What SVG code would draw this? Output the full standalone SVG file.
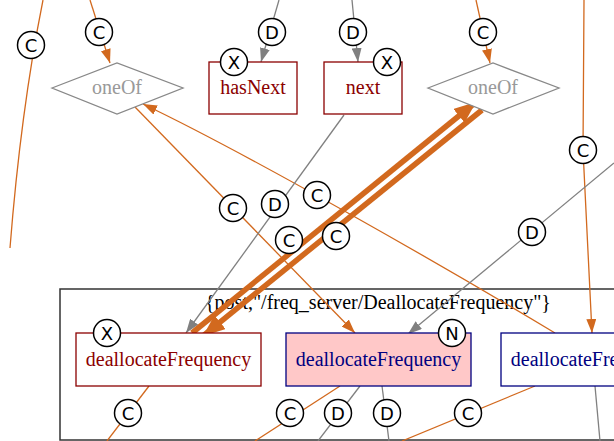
<svg xmlns="http://www.w3.org/2000/svg" width="614" height="441" viewBox="0 0 614 441">
<style>
.lbl{font-family:"Liberation Serif","Times New Roman",serif;font-size:20px;text-anchor:middle}
.mk circle{fill:#fff;stroke:#000;stroke-width:1.5}
.mk text{font-family:"DejaVu Sans",sans-serif;font-size:18px;text-anchor:middle;fill:#000}
.eo{fill:none;stroke:#d2691e;stroke-width:1.3}
.eg{fill:none;stroke:#808080;stroke-width:1.3}
.et{fill:none;stroke:#d2691e;stroke-width:5.5}
</style>
<defs>
<marker id="ao" markerUnits="userSpaceOnUse" viewBox="0 0 14 10" refX="14" refY="5" markerWidth="14" markerHeight="10" orient="auto"><path d="M0,0L14,5L0,10z" fill="#d2691e"/></marker>
<marker id="ag" markerUnits="userSpaceOnUse" viewBox="0 0 14 10" refX="14" refY="5" markerWidth="14" markerHeight="10" orient="auto"><path d="M0,0L14,5L0,10z" fill="#808080"/></marker>
<marker id="at" markerUnits="userSpaceOnUse" viewBox="0 0 22 18" refX="22" refY="9" markerWidth="22" markerHeight="18" orient="auto"><path d="M0,0L22,9L0,18z" fill="#d2691e"/></marker>
</defs>
<rect x="0" y="0" width="614" height="441" fill="#fff"/>

<g id="cluster">
<rect x="60" y="289" width="570" height="151" fill="none" stroke="#333" stroke-width="1.5"/>
<text class="lbl" x="378" y="309" fill="#000">{post,"/freq_server/DeallocateFrequency"}</text>
</g>

<g id="connectors">
<path class="eo" d="M43,0 C35,40 20,120 10,248"/>
<path class="eo" d="M90,0 L110,63" marker-end="url(#ao)"/>
<path class="eg" d="M279,0 L261,62" marker-end="url(#ag)"/>
<path class="eg" d="M352,0 L358,62" marker-end="url(#ag)"/>
<path class="eo" d="M476,0 L490,63" marker-end="url(#ao)"/>
<path class="eo" d="M584,0 L583,150 L592,333" marker-end="url(#ao)"/>
<path class="eo" d="M135,107 L355,333" marker-end="url(#ao)"/>
<path class="eo" d="M555,333 C450,270 250,155 143,104" marker-end="url(#ao)"/>
<path class="eg" d="M344,115 L186,333" marker-end="url(#ag)"/>
<path class="eg" d="M614,163 L408,334" marker-end="url(#ag)"/>
<path class="et" d="M192,333 L476,102" marker-end="url(#at)" marker-start="url(#at)"/>
<path class="et" d="M482,110 L203,336" marker-end="url(#at)"/>
<path class="eo" d="M149,386 L107,441"/>
<path class="eo" d="M340,386 L255,441"/>
<path class="eg" d="M360,386 L318,441"/>
<path class="eg" d="M382,386 L389,441"/>
<path class="eo" d="M535,386 L402,441"/>
<path class="eg" d="M595,386 L600,441"/>
</g>

<g id="oneOf1">
<polygon points="52,88 117,63 183,88 117,114" fill="#fff" stroke="#888" stroke-width="1.3"/>
<text class="lbl" x="117" y="94" fill="#999">oneOf</text>
</g>
<g id="oneOf2">
<polygon points="428,88 493,63 559,88 493,114" fill="#fff" stroke="#888" stroke-width="1.3"/>
<text class="lbl" x="493" y="94" fill="#999">oneOf</text>
</g>
<g id="hasNext">
<rect x="209" y="62" width="88" height="52" fill="#fff" stroke="#8b0000" stroke-width="1.3"/>
<text class="lbl" x="253" y="94" fill="#8b0000">hasNext</text>
</g>
<g id="next">
<rect x="324" y="62" width="78" height="52" fill="#fff" stroke="#8b0000" stroke-width="1.3"/>
<text class="lbl" x="363" y="94" fill="#8b0000">next</text>
</g>
<g id="dealloc1">
<rect x="76" y="333" width="185" height="53" fill="#fff" stroke="#8b0000" stroke-width="1.3"/>
<text class="lbl" x="168.5" y="366" fill="#8b0000">deallocateFrequency</text>
</g>
<g id="dealloc2">
<rect x="286" y="333" width="185" height="53" fill="#ffc8c8" stroke="#000080" stroke-width="1.3"/>
<text class="lbl" x="378.5" y="366" fill="#000080">deallocateFrequency</text>
</g>
<g id="dealloc3">
<rect x="501" y="333" width="185" height="53" fill="#fff" stroke="#000080" stroke-width="1.3"/>
<text class="lbl" x="593.5" y="366" fill="#000080">deallocateFrequency</text>
</g>

<g id="marks" class="mk">
<g><circle cx="31" cy="45" r="13.5"/><text x="31" y="51.5">C</text></g>
<g><circle cx="99" cy="32" r="13.5"/><text x="99" y="38.5">C</text></g>
<g><circle cx="272" cy="32" r="13.5"/><text x="272" y="38.5">D</text></g>
<g><circle cx="353" cy="32" r="13.5"/><text x="353" y="38.5">D</text></g>
<g><circle cx="483" cy="32" r="13.5"/><text x="483" y="38.5">C</text></g>
<g><circle cx="234" cy="62" r="13.5"/><text x="234" y="68.5">X</text></g>
<g><circle cx="387" cy="62" r="13.5"/><text x="387" y="68.5">X</text></g>
<g><circle cx="583" cy="150" r="13.5"/><text x="583" y="156.5">C</text></g>
<g><circle cx="317" cy="195" r="13.5"/><text x="317" y="201.5">C</text></g>
<g><circle cx="275" cy="204" r="13.5"/><text x="275" y="210.5">D</text></g>
<g><circle cx="233" cy="208" r="13.5"/><text x="233" y="214.5">C</text></g>
<g><circle cx="289" cy="240" r="13.5"/><text x="289" y="246.5">C</text></g>
<g><circle cx="336" cy="236" r="13.5"/><text x="336" y="242.5">C</text></g>
<g><circle cx="532" cy="232" r="13.5"/><text x="532" y="238.5">D</text></g>
<g><circle cx="107" cy="333" r="13.5"/><text x="107" y="339.5">X</text></g>
<g><circle cx="452" cy="333" r="13.5"/><text x="452" y="339.5">N</text></g>
<g><circle cx="128" cy="413" r="13.5"/><text x="128" y="419.5">C</text></g>
<g><circle cx="290" cy="413" r="13.5"/><text x="290" y="419.5">C</text></g>
<g><circle cx="338" cy="413" r="13.5"/><text x="338" y="419.5">D</text></g>
<g><circle cx="387" cy="413" r="13.5"/><text x="387" y="419.5">D</text></g>
<g><circle cx="468" cy="413" r="13.5"/><text x="468" y="419.5">C</text></g>
</g>
</svg>
